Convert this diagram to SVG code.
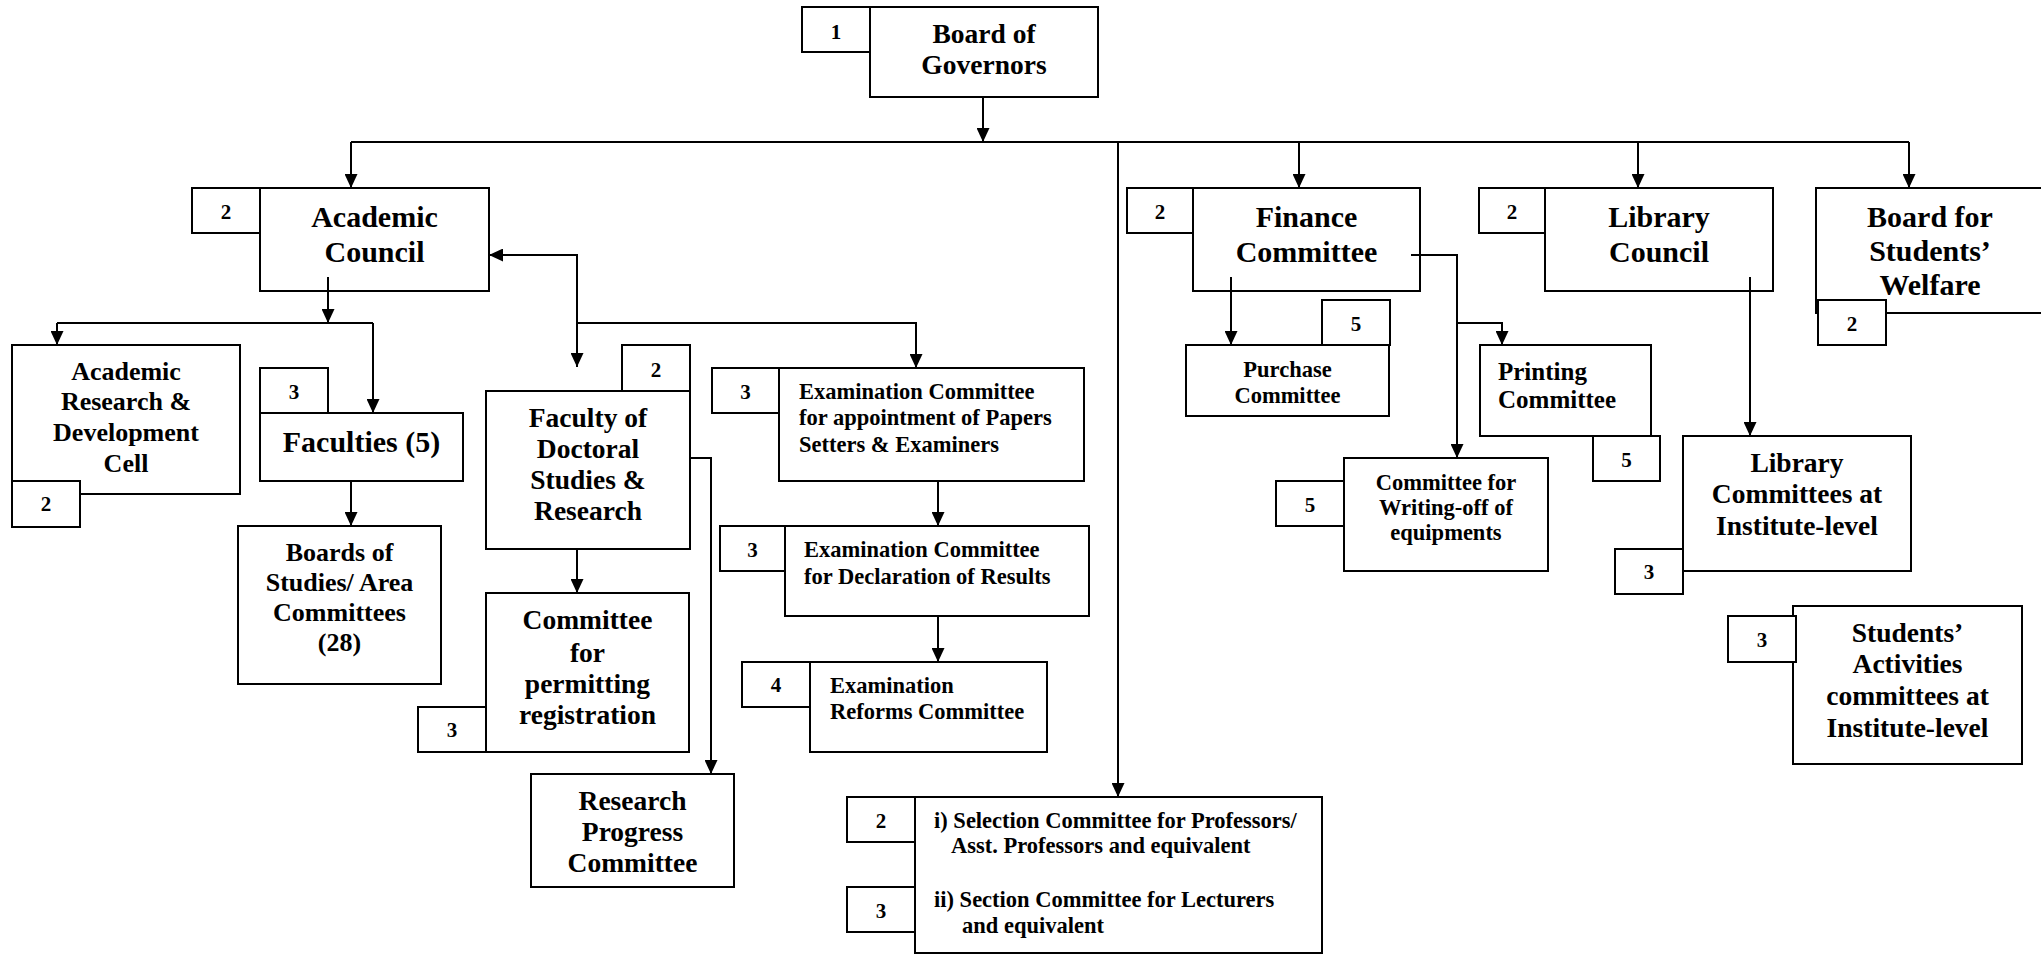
<svg xmlns="http://www.w3.org/2000/svg" width="2041" height="955" viewBox="0 0 2041 955">
<style>
.b{fill:#fff;stroke:#000;stroke-width:2}
.t{font-family:"Liberation Serif","Times New Roman",serif;font-weight:bold;fill:#000}
.c{text-anchor:middle}
.n{font-size:21px}
.s22{font-size:22.5px}
.s25{font-size:25px}
.s26{font-size:26px}
.s27{font-size:27.5px}
.s30{font-size:30px}
.ln{fill:none;stroke:#000;stroke-width:2}
</style>
<defs>
<marker id="ah" markerUnits="userSpaceOnUse" markerWidth="14" markerHeight="13" refX="14" refY="6.5" orient="auto">
<path d="M0,0 L14,6.5 L0,13 z" fill="#000"/>
</marker>
</defs>
<rect width="2041" height="955" fill="#fff"/>

<g id="board-of-governors">
<rect class="b" x="870" y="7" width="228" height="90"/>
<rect class="b" x="802" y="7" width="68" height="45"/>
<text class="t n c" x="836" y="39">1</text>
<text class="t s27 c" x="984" y="43">Board of</text>
<text class="t s27 c" x="984" y="74">Governors</text>
</g>

<g id="academic-council">
<rect class="b" x="260" y="188" width="229" height="103"/>
<rect class="b" x="192" y="188" width="68" height="45"/>
<text class="t n c" x="226" y="219">2</text>
<text class="t s30 c" x="374.5" y="227">Academic</text>
<text class="t s30 c" x="374.5" y="262">Council</text>
</g>

<g id="finance-committee">
<rect class="b" x="1193" y="188" width="227" height="103"/>
<rect class="b" x="1127" y="188" width="66" height="45"/>
<text class="t n c" x="1160" y="219">2</text>
<text class="t s30 c" x="1306.5" y="227">Finance</text>
<text class="t s30 c" x="1306.5" y="262">Committee</text>
</g>

<g id="library-council">
<rect class="b" x="1545" y="188" width="228" height="103"/>
<rect class="b" x="1479" y="188" width="66" height="45"/>
<text class="t n c" x="1512" y="219">2</text>
<text class="t s30 c" x="1659" y="227">Library</text>
<text class="t s30 c" x="1659" y="262">Council</text>
</g>

<g id="board-students-welfare">
<rect class="b" x="1816" y="188" width="240" height="125"/>
<text class="t s30 c" x="1930" y="227">Board for</text>
<text class="t s30 c" x="1930" y="261">Students’</text>
<text class="t s30 c" x="1930" y="295">Welfare</text>
<rect class="b" x="1818" y="300" width="68" height="45"/>
<text class="t n c" x="1852" y="331">2</text>
</g>

<g id="ardc">
<rect class="b" x="12" y="345" width="228" height="149"/>
<rect class="b" x="12" y="481" width="68" height="46"/>
<text class="t n c" x="46" y="511">2</text>
<text class="t s26 c" x="126" y="380">Academic</text>
<text class="t s26 c" x="126" y="410">Research &amp;</text>
<text class="t s26 c" x="126" y="441">Development</text>
<text class="t s26 c" x="126" y="472">Cell</text>
</g>

<g id="faculties">
<rect class="b" x="260" y="413" width="203" height="68"/>
<rect class="b" x="260" y="368" width="68" height="45"/>
<text class="t n c" x="294" y="399">3</text>
<text class="t s30 c" x="361.5" y="452">Faculties (5)</text>
</g>

<g id="boards-of-studies">
<rect class="b" x="238" y="526" width="203" height="158"/>
<text class="t s26 c" x="339.5" y="561">Boards of</text>
<text class="t s26 c" x="339.5" y="591">Studies/ Area</text>
<text class="t s26 c" x="339.5" y="621">Committees</text>
<text class="t s26 c" x="339.5" y="651">(28)</text>
</g>

<g id="faculty-doctoral">
<rect class="b" x="486" y="391" width="204" height="158"/>
<rect class="b" x="622" y="345" width="68" height="46"/>
<text class="t n c" x="656" y="377">2</text>
<text class="t s27 c" x="588" y="427">Faculty of</text>
<text class="t s27 c" x="588" y="458">Doctoral</text>
<text class="t s27 c" x="588" y="489">Studies &amp;</text>
<text class="t s27 c" x="588" y="520">Research</text>
</g>

<g id="committee-permitting">
<rect class="b" x="486" y="593" width="203" height="159"/>
<rect class="b" x="418" y="707" width="68" height="45"/>
<text class="t n c" x="452" y="737">3</text>
<text class="t s27 c" x="587.5" y="629">Committee</text>
<text class="t s27 c" x="587.5" y="662">for</text>
<text class="t s27 c" x="587.5" y="693">permitting</text>
<text class="t s27 c" x="587.5" y="724">registration</text>
</g>

<g id="research-progress">
<rect class="b" x="531" y="774" width="203" height="113"/>
<text class="t s27 c" x="632.5" y="810">Research</text>
<text class="t s27 c" x="632.5" y="841">Progress</text>
<text class="t s27 c" x="632.5" y="872">Committee</text>
</g>

<g id="exam-appointment">
<rect class="b" x="779" y="368" width="305" height="113"/>
<rect class="b" x="712" y="368" width="67" height="45"/>
<text class="t n c" x="745.5" y="399">3</text>
<text class="t s22" x="799" y="399">Examination Committee</text>
<text class="t s22" x="799" y="425">for appointment of Papers</text>
<text class="t s22" x="799" y="452">Setters &amp; Examiners</text>
</g>

<g id="exam-declaration">
<rect class="b" x="785" y="526" width="304" height="90"/>
<rect class="b" x="720" y="526" width="65" height="45"/>
<text class="t n c" x="752.5" y="557">3</text>
<text class="t s22" x="804" y="557">Examination Committee</text>
<text class="t s22" x="804" y="584">for Declaration of Results</text>
</g>

<g id="exam-reforms">
<rect class="b" x="810" y="662" width="237" height="90"/>
<rect class="b" x="742" y="662" width="68" height="45"/>
<text class="t n c" x="776" y="692">4</text>
<text class="t s22" x="830" y="693">Examination</text>
<text class="t s22" x="830" y="719">Reforms Committee</text>
</g>

<g id="selection-committees">
<rect class="b" x="915" y="797" width="407" height="156"/>
<rect class="b" x="847" y="797" width="68" height="45"/>
<rect class="b" x="847" y="887" width="68" height="45"/>
<text class="t n c" x="881" y="828">2</text>
<text class="t n c" x="881" y="918">3</text>
<text class="t s22" x="934" y="828">i) Selection Committee for Professors/</text>
<text class="t s22" x="951" y="853">Asst. Professors and equivalent</text>
<text class="t s22" x="934" y="907">ii) Section Committee for Lecturers</text>
<text class="t s22" x="962" y="933">and equivalent</text>
</g>

<g id="purchase-committee">
<rect class="b" x="1186" y="345" width="203" height="71"/>
<rect class="b" x="1322" y="300" width="68" height="45"/>
<text class="t n c" x="1356" y="331">5</text>
<text class="t s22 c" x="1287.5" y="377">Purchase</text>
<text class="t s22 c" x="1287.5" y="403">Committee</text>
</g>

<g id="printing-committee">
<rect class="b" x="1480" y="345" width="171" height="91"/>
<rect class="b" x="1593" y="436" width="67" height="45"/>
<text class="t n c" x="1626.5" y="467">5</text>
<text class="t s25" x="1498" y="380">Printing</text>
<text class="t s25" x="1498" y="408">Committee</text>
</g>

<g id="writing-off-committee">
<rect class="b" x="1344" y="458" width="204" height="113"/>
<rect class="b" x="1276" y="481" width="68" height="45"/>
<text class="t n c" x="1310" y="512">5</text>
<text class="t s22 c" x="1446" y="490">Committee for</text>
<text class="t s22 c" x="1446" y="515">Writing-off of</text>
<text class="t s22 c" x="1446" y="540">equipments</text>
</g>

<g id="library-committees">
<rect class="b" x="1683" y="436" width="228" height="135"/>
<rect class="b" x="1615" y="549" width="68" height="45"/>
<text class="t n c" x="1649" y="579">3</text>
<text class="t s27 c" x="1797" y="472">Library</text>
<text class="t s27 c" x="1797" y="503">Committees at</text>
<text class="t s27 c" x="1797" y="535">Institute-level</text>
</g>

<g id="students-activities">
<rect class="b" x="1793" y="606" width="229" height="158"/>
<rect class="b" x="1728" y="616" width="68" height="46"/>
<text class="t n c" x="1762" y="647">3</text>
<text class="t s27 c" x="1907.5" y="642">Students’</text>
<text class="t s27 c" x="1907.5" y="673">Activities</text>
<text class="t s27 c" x="1907.5" y="705">committees at</text>
<text class="t s27 c" x="1907.5" y="737">Institute-level</text>
</g>

<g id="connectors" class="ln">
<path d="M983,97 V142" marker-end="url(#ah)"/>
<path d="M351,142 H1909"/>
<path d="M351,142 V188" marker-end="url(#ah)"/>
<path d="M1299,142 V188" marker-end="url(#ah)"/>
<path d="M1638,142 V188" marker-end="url(#ah)"/>
<path d="M1909,142 V188" marker-end="url(#ah)"/>
<path d="M1118,142 V797" marker-end="url(#ah)"/>
<path d="M328,277 V323" marker-end="url(#ah)"/>
<path d="M57,323 H373"/>
<path d="M57,323 V345" marker-end="url(#ah)"/>
<path d="M373,323 V413" marker-end="url(#ah)"/>
<path d="M577,323 V255 H489" marker-end="url(#ah)"/>
<path d="M577,323 V367" marker-end="url(#ah)"/>
<path d="M577,323 H916 V368" marker-end="url(#ah)"/>
<path d="M351,481 V526" marker-end="url(#ah)"/>
<path d="M577,549 V593" marker-end="url(#ah)"/>
<path d="M690,458 H711 V774" marker-end="url(#ah)"/>
<path d="M938,481 V526" marker-end="url(#ah)"/>
<path d="M938,616 V662" marker-end="url(#ah)"/>
<path d="M1231,277 V345" marker-end="url(#ah)"/>
<path d="M1411,255 H1457 V458" marker-end="url(#ah)"/>
<path d="M1457,323 H1502 V345" marker-end="url(#ah)"/>
<path d="M1750,277 V436" marker-end="url(#ah)"/>
</g>
</svg>
